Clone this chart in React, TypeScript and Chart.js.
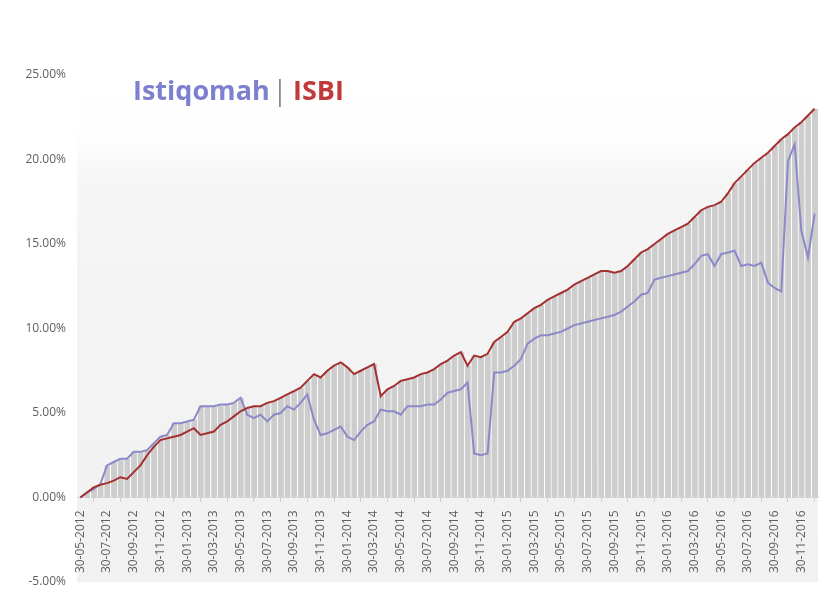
import React, { useEffect, useRef } from 'react';
import { Chart, registerables } from 'chart.js';

Chart.register(...registerables);

// Half-monthly observations, 30-05-2012 .. end 2016 (percent)
const ISTIQOMAH: number[] = [
  0, 0.3, 0.5, 0.8, 1.9, 2.1, 2.3, 2.3, 2.7, 2.7,
  2.8, 3.2, 3.6, 3.7, 4.4, 4.4, 4.5, 4.6, 5.4, 5.4,
  5.4, 5.5, 5.5, 5.6, 5.9, 4.9, 4.7, 4.9, 4.5, 4.9,
  5.0, 5.4, 5.2, 5.6, 6.1, 4.6, 3.7, 3.8, 4.0, 4.2,
  3.6, 3.4, 3.9, 4.3, 4.5, 5.2, 5.1, 5.1, 4.9, 5.4,
  5.4, 5.4, 5.5, 5.5, 5.8, 6.2, 6.3, 6.4, 6.8, 2.6,
  2.5, 2.6, 7.4, 7.4, 7.5, 7.8, 8.2, 9.1, 9.4, 9.6,
  9.6, 9.7, 9.8, 10.0, 10.2, 10.3, 10.4, 10.5, 10.6, 10.7,
  10.8, 11.0, 11.3, 11.6, 12.0, 12.1, 12.9, 13.0, 13.1, 13.2,
  13.3, 13.4, 13.8, 14.3, 14.4, 13.7, 14.4, 14.5, 14.6, 13.7,
  13.8, 13.7, 13.9, 12.7, 12.4, 12.2, 19.9, 20.9, 15.8, 14.2,
  16.8,
];

const ISBI: number[] = [
  0, 0.3, 0.6, 0.75, 0.85, 1.0, 1.2, 1.1, 1.5, 1.9,
  2.5, 3.0, 3.4, 3.5, 3.6, 3.7, 3.9, 4.1, 3.7, 3.8,
  3.9, 4.3, 4.5, 4.8, 5.1, 5.3, 5.4, 5.4, 5.6, 5.7,
  5.9, 6.1, 6.3, 6.5, 6.9, 7.3, 7.1, 7.5, 7.8, 8.0,
  7.7, 7.3, 7.5, 7.7, 7.9, 6.0, 6.4, 6.6, 6.9, 7.0,
  7.1, 7.3, 7.4, 7.6, 7.9, 8.1, 8.4, 8.6, 7.8, 8.4,
  8.3, 8.5, 9.2, 9.5, 9.8, 10.4, 10.6, 10.9, 11.2, 11.4,
  11.7, 11.9, 12.1, 12.3, 12.6, 12.8, 13.0, 13.2, 13.4, 13.4,
  13.3, 13.4, 13.7, 14.1, 14.5, 14.7, 15.0, 15.3, 15.6, 15.8,
  16.0, 16.2, 16.6, 17.0, 17.2, 17.3, 17.5, 18.0, 18.6, 19.0,
  19.4, 19.8, 20.1, 20.4, 20.8, 21.2, 21.5, 21.9, 22.2, 22.6,
  23.0,
];

const TICK_LABELS: string[] = [
  '30-05-2012', '30-07-2012', '30-09-2012', '30-11-2012',
  '30-01-2013', '30-03-2013', '30-05-2013', '30-07-2013', '30-09-2013', '30-11-2013',
  '30-01-2014', '30-03-2014', '30-05-2014', '30-07-2014', '30-09-2014', '30-11-2014',
  '30-01-2015', '30-03-2015', '30-05-2015', '30-07-2015', '30-09-2015', '30-11-2015',
  '30-01-2016', '30-03-2016', '30-05-2016', '30-07-2016', '30-09-2016', '30-11-2016',
];

const Y_MIN = -5;
const Y_MAX = 25;
const Y_STEP = 5;

const pad = (n: number) => (n < 10 ? '0' + n : '' + n);

function buildCategories(n: number): string[] {
  const out: string[] = [];
  for (let i = 0; i < n; i++) {
    const k = Math.floor(i / 2) + (i % 2 === 1 ? 1 : 0);
    const mAbs = 4 + k; // May 2012 = month index 4
    const year = 2012 + Math.floor(mAbs / 12);
    const month = (mAbs % 12) + 1;
    const day = i % 2 === 0 ? (month === 2 ? 28 : 30) : 15;
    out.push(`${pad(day)}-${pad(month)}-${year}`);
  }
  return out;
}

const CATEGORIES = buildCategories(ISBI.length);
const ENVELOPE = ISBI.map((v, i) => Math.max(v, ISTIQOMAH[i]));

const FONT = "'Open Sans', 'DejaVu Sans', sans-serif";

const backgroundPlugin = {
  id: 'bgPlugin',
  beforeDraw(chart: any) {
    const { ctx, chartArea: a } = chart;
    ctx.save();
    ctx.fillStyle = '#ffffff';
    ctx.fillRect(0, 0, chart.width, chart.height);
    const g = ctx.createLinearGradient(0, a.top, 0, a.bottom);
    g.addColorStop(0, '#ffffff');
    g.addColorStop(0.12, '#fefefe');
    g.addColorStop(0.22, '#f5f5f5');
    g.addColorStop(1, '#f1f1f1');
    ctx.fillStyle = g;
    ctx.fillRect(a.left, a.top, a.right - a.left, a.bottom - a.top);
    ctx.restore();
  },
};

const titlePlugin = {
  id: 'titlePlugin',
  afterDraw(chart: any) {
    const ctx = chart.ctx;
    ctx.save();
    ctx.textBaseline = 'alphabetic';
    ctx.textAlign = 'left';
    ctx.font = `bold 27px ${FONT}`;
    ctx.fillStyle = '#7c80cf';
    ctx.fillText('Istiqomah', 133, 100);
    ctx.font = `27px ${FONT}`;
    ctx.fillStyle = '#8a8a8a';
    ctx.textAlign = 'center';
    ctx.fillText('|', 280, 100);
    ctx.textAlign = 'left';
    ctx.font = `bold 27px ${FONT}`;
    ctx.fillStyle = '#c0393b';
    ctx.fillText('ISBI', 293, 100);
    ctx.restore();
  },
};

export default function App() {
  const canvasRef = useRef<HTMLCanvasElement | null>(null);

  useEffect(() => {
    if (!canvasRef.current) return;
    const chart = new Chart(canvasRef.current, {
      type: 'bar',
      data: {
        labels: CATEGORIES,
        datasets: [
          {
            type: 'line',
            label: 'ISBI',
            data: ISBI,
            borderColor: '#a3302f',
            borderWidth: 2,
            pointRadius: 0,
            tension: 0,
            order: 1,
          } as any,
          {
            type: 'line',
            label: 'Istiqomah',
            data: ISTIQOMAH,
            borderColor: '#8c89c8',
            borderWidth: 2,
            pointRadius: 0,
            tension: 0,
            order: 2,
          } as any,
          {
            type: 'bar',
            label: 'envelope',
            data: ENVELOPE,
            backgroundColor: '#cdcdcd',
            borderColor: '#ffffff',
            borderWidth: { left: 1, right: 0, top: 0, bottom: 0 },
            borderSkipped: false,
            barPercentage: 1,
            categoryPercentage: 1,
            order: 3,
          } as any,
        ],
      },
      options: {
        responsive: false,
        animation: false,
        layout: { padding: { left: 7, right: 6, top: 75, bottom: 14 } },
        plugins: {
          legend: { display: false },
          title: { display: false },
          tooltip: { enabled: false },
        },
        scales: {
          x: {
            type: 'category',
            position: { y: 0 } as any,
            offset: true,
            grid: {
              display: true,
              drawOnChartArea: false,
              drawTicks: true,
              tickLength: 4,
              color: '#cfcfcf',
            },
            border: { display: true, color: '#d4d4d4' },
            ticks: {
              autoSkip: false,
              maxRotation: 90,
              minRotation: 90,
              padding: 9,
              color: '#5f5f5f',
              font: { family: FONT, size: 12 },
              callback: function (this: any, value: any) {
                const lab = this.getLabelForValue(value);
                return TICK_LABELS.includes(lab) ? lab : null;
              },
            },
            afterFit: (s: any) => {
              s.paddingLeft = 0;
              s.paddingRight = 0;
              s.paddingTop = 0;
              s.paddingBottom = 0;
            },
          },
          y: {
            min: Y_MIN,
            max: Y_MAX,
            grid: { display: false },
            border: { display: false },
            ticks: {
              stepSize: Y_STEP,
              padding: 3,
              color: '#5f5f5f',
              font: { family: FONT, size: 12 },
              callback: (v: any) => Number(v).toFixed(2) + '%',
            },
            afterFit: (s: any) => {
              s.width = 70;
            },
          },
        },
      },
      plugins: [backgroundPlugin, titlePlugin],
    });
    return () => chart.destroy();
  }, []);

  return (
    <div style={{ position: 'fixed', left: 0, top: 0, width: 824, height: 596, background: '#fff' }}>
      <canvas ref={canvasRef} width={824} height={596} style={{ display: 'block' }} />
    </div>
  );
}
